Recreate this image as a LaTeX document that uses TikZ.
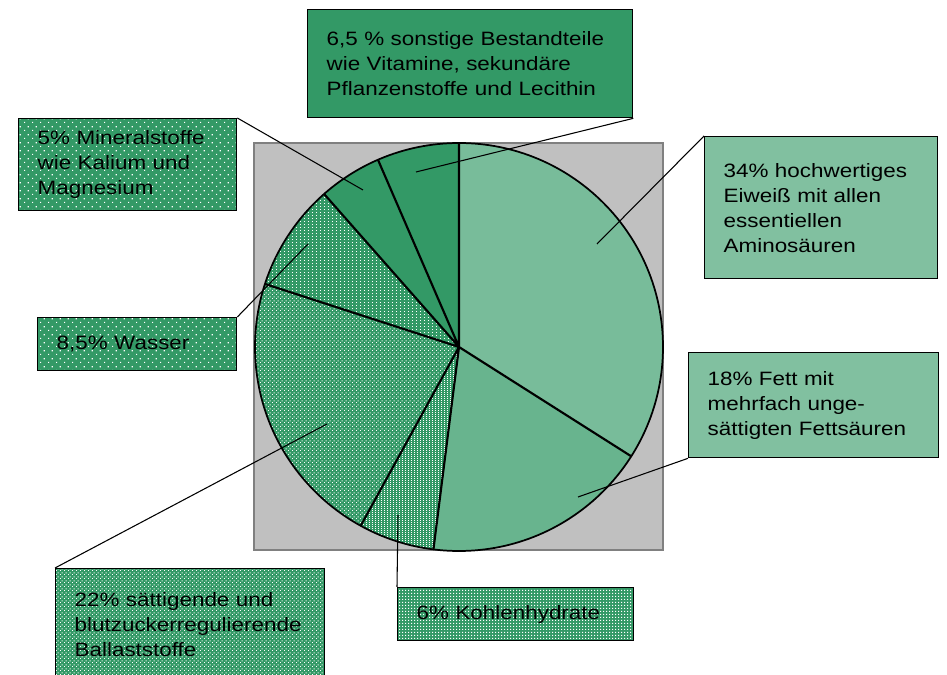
\documentclass[tikz,border=0pt]{standalone}
\usepackage{fontspec}
\setmainfont[FakeStretch=1.16]{Liberation Sans}
\usetikzlibrary{patterns}

\definecolor{leaf}{RGB}{51,153,102}
\definecolor{plate}{RGB}{192,192,192}
\definecolor{plateline}{RGB}{128,128,128}

% white dot fills laid over the green
\pgfdeclarepatternformonly{sparsedots}{\pgfpointorigin}{\pgfpoint{6pt}{6pt}}{\pgfpoint{6pt}{6pt}}{%
  \pgfpathrectangle{\pgfpointorigin}{\pgfpoint{1pt}{1pt}}%
  \pgfpathrectangle{\pgfpoint{3pt}{3pt}}{\pgfpoint{1pt}{1pt}}%
  \pgfusepath{fill}}
\pgfdeclarepatternformonly{finedots}{\pgfpointorigin}{\pgfpoint{3pt}{3pt}}{\pgfpoint{3pt}{3pt}}{%
  \pgfpathrectangle{\pgfpointorigin}{\pgfpoint{0.9pt}{0.9pt}}%
  \pgfpathrectangle{\pgfpoint{1.5pt}{1.5pt}}{\pgfpoint{0.9pt}{0.9pt}}%
  \pgfusepath{fill}}
\pgfdeclarepatternformonly{griddots}{\pgfpointorigin}{\pgfpoint{2.25pt}{2.25pt}}{\pgfpoint{2.25pt}{2.25pt}}{%
  \pgfpathrectangle{\pgfpointorigin}{\pgfpoint{1pt}{1pt}}%
  \pgfusepath{fill}}
\pgfdeclarepatternformonly{vdots}{\pgfpointorigin}{\pgfpoint{2.25pt}{1.5pt}}{\pgfpoint{2.25pt}{1.5pt}}{%
  \pgfpathrectangle{\pgfpointorigin}{\pgfpoint{0.75pt}{1pt}}%
  \pgfusepath{fill}}
\pgfdeclarepatternformonly{rowdots}{\pgfpointorigin}{\pgfpoint{3pt}{2.25pt}}{\pgfpoint{3pt}{2.25pt}}{%
  \pgfpathrectangle{\pgfpointorigin}{\pgfpoint{0.8pt}{0.8pt}}%
  \pgfusepath{fill}}

\begin{document}
\begin{tikzpicture}[x=0.75pt,y=0.75pt,
    lbox/.style={draw, line width=1pt, anchor=north west, inner xsep=14.25pt,
      inner ysep=0pt, align=left, font=\fontsize{14.5}{18.75}\selectfont},
    dotfill/.style={preaction={fill=leaf}, pattern=#1, pattern color=white},
    mixfill/.style={fill=leaf!#1!white}]
    \useasboundingbox (0,0) rectangle (947,675);
    \clip (0,0) rectangle (947,675);

    % grey plate behind the pie
    \draw[plateline, fill=plate, line width=1.5pt] (254,125) rectangle (663,532);

    % pie, clockwise from the top
    \coordinate (O) at (459,328);
    \path[mixfill=66] (O) -- ++(90:204) arc[start angle=90, end angle=-32.4, radius=204] -- cycle;
    \path[mixfill=74] (O) -- ++(-32.4:204) arc[start angle=-32.4, end angle=-97.2, radius=204] -- cycle;
    \path[dotfill=vdots] (O) -- ++(-97.2:204) arc[start angle=-97.2, end angle=-118.8, radius=204] -- cycle;
    \path[dotfill=finedots] (O) -- ++(-118.8:204) arc[start angle=-118.8, end angle=-198, radius=204] -- cycle;
    \path[dotfill=rowdots] (O) -- ++(-198:204) arc[start angle=-198, end angle=-228.6, radius=204] -- cycle;
    \fill[leaf] (O) -- ++(-228.6:204) arc[start angle=-228.6, end angle=-270, radius=204] -- cycle;

    \draw[line width=1.6pt]
    (O) -- ++(90:204) (O) -- ++(-32.4:204) (O) -- ++(-97.2:204) (O) -- ++(-118.8:204)
    (O) -- ++(-198:204) (O) -- ++(-228.6:204) (O) -- ++(-246.6:204);
    \draw[line width=1.3pt] (O) circle[radius=204];

    % label boxes
    \node[lbox, fill=leaf, text width=215.25pt, minimum height=81pt] (S) at (307,666)
      {6,5 \% sonstige Bestandteile\\wie Vitamine, sekundäre\\Pflanzenstoffe und Lecithin};
    \node[lbox, dotfill=sparsedots, text width=135pt, minimum height=69pt] (M) at (18,557)
      {5\% Mineralstoffe\\wie Kalium und\\Magnesium};
    \node[lbox, mixfill=62, text width=146.25pt, minimum height=106.5pt] (E) at (704,539)
      {34\% hochwertiges\\Eiweiß mit allen\\essentiellen\\Aminosäuren};
    \node[lbox, mixfill=62, text width=159pt, minimum height=78.75pt] (F) at (688,323)
      {18\% Fett mit\\mehrfach unge-\\sättigten Fettsäuren};
    \node[lbox, dotfill=sparsedots, text width=120.75pt, minimum height=39.75pt] (W) at (37,358)
      {8,5\% Wasser};
    \node[lbox, dotfill=finedots, text width=173.25pt, minimum height=84pt] (B) at (55,107)
      {22\% sättigende und\\blutzuckerregulierende\\Ballaststoffe};
    \node[lbox, dotfill=griddots, text width=148.5pt, minimum height=39.75pt] (K) at (397,88)
      {6\% Kohlenhydrate};

    % leader lines into the slices
    \coordinate (s) at (416,503);
    \coordinate (m) at (363,485);
    \coordinate (e) at (597,431);
    \coordinate (f) at (578,178);
    \coordinate (w) at (308,431);
    \coordinate (b) at (327,251);
    \coordinate (k) at (398,160);

    \path[draw, line width=0.8pt]
    (S.south east) -- (s)
    (M.north east) -- (m)
    (E.north west) -- (e)
    (F.south west) -- (f)
    (W.north east) -- (w)
    (B.north west) -- (b)
    (k) -- (K.north west)
    ;
\end{tikzpicture}
\end{document}
